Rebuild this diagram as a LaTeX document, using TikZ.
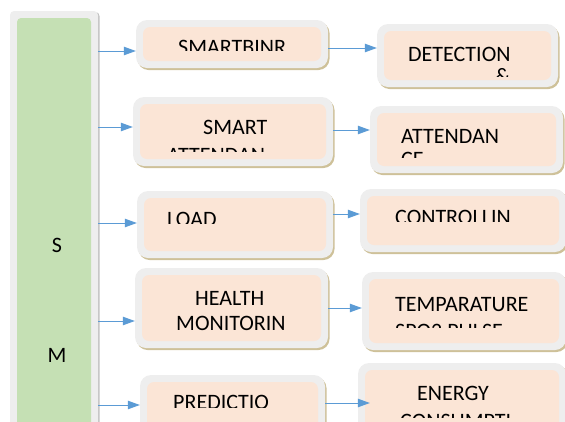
\documentclass[tikz,border=0pt]{standalone}
\usepackage{fontspec}
\setmainfont{Carlito}
\usetikzlibrary{arrows.meta,shadows}

\definecolor{peach}{HTML}{FBE5D6}
\definecolor{leaf}{HTML}{C5E0B4}
\definecolor{frame}{HTML}{EEEEEE}
\definecolor{shtan}{HTML}{C9BA8E}
\definecolor{arrblue}{HTML}{5B9BD5}

\tikzset{
	box/.style={rectangle, fill=frame, rounded corners=11pt, inner sep=0pt,
		drop shadow={shadow xshift=1.5pt, shadow yshift=-2pt, fill=shtan, opacity=.9},
		path picture={\fill[peach, rounded corners=7pt]
			([shift={(7pt,-7pt)}]path picture bounding box.north west) rectangle
			([shift={(-7pt,7pt)}]path picture bounding box.south east);}},
	barbox/.style={rectangle, fill=frame, rounded corners=4pt, inner sep=0pt,
		drop shadow={shadow xshift=1.5pt, shadow yshift=-1pt, fill=black!30, opacity=.8},
		path picture={\fill[leaf]
			([shift={(7pt,-7pt)}]path picture bounding box.north west) rectangle
			([shift={(-7pt,7pt)}]path picture bounding box.south east);}},
	txt/.style={inner sep=0pt, font=\fontsize{22}{26}\selectfont},
	arr/.style={-{Triangle[length=12pt,width=8.5pt]}, draw=arrblue, fill=arrblue, line width=.8pt}
}

% one line of text cut off below #4
\newcommand{\clippedline}[5]{%
	\begin{scope}
		\clip (0,0) rectangle (565,#4);
		\node 	(#1)	at	(#2,#3)	[txt, anchor=base west]{#5};
	\end{scope}}

\begin{document}
\begin{tikzpicture}[x=1pt,y=-1pt]

	\useasboundingbox (0,0) rectangle (565,421);
	\clip (0,0) rectangle (565,421);

	\node 	(bar)	at	(54,225.5)	[barbox, minimum width=88pt, minimum height=429pt]{};

	\node 	(a1)	at	(232,44)	[box, minimum width=192pt, minimum height=48pt]{};
	\node 	(a2)	at	(233,131.5)	[box, minimum width=200pt, minimum height=69pt]{};
	\node 	(a3)	at	(235,224.5)	[box, minimum width=196pt, minimum height=67pt]{};
	\node 	(a4)	at	(231.5,308)	[box, minimum width=193pt, minimum height=80pt]{};
	\node 	(a5)	at	(232.5,407.5)	[box, minimum width=185pt, minimum height=65pt]{};

	\node 	(b1)	at	(467.5,55.5)	[box, minimum width=181pt, minimum height=63pt]{};
	\node 	(b2)	at	(466.5,139.5)	[box, minimum width=193pt, minimum height=67pt]{};
	\node 	(b3)	at	(463,220.5)	[box, minimum width=206pt, minimum height=63pt]{};
	\node 	(b4)	at	(464,311)	[box, minimum width=204pt, minimum height=78pt]{};
	\node 	(b5)	at	(462,401.5)	[box, minimum width=208pt, minimum height=77pt]{};

	% bar letters
	\node 	(s)	at	(57,252)	[txt, anchor=base]{S};
	\node 	(m)	at	(57,362)	[txt, anchor=base]{M};

	% texts
	\clippedline{t1}{178}{54}{50}{SMARTBINR}
	\node 	(u1)	at	(408,61)	[txt, anchor=base west]{DETECTION};
	\clippedline{u1b}{495}{83}{76}{\&}

	\node 	(t2)	at	(203,134)	[txt, anchor=base west]{SMART};
	\clippedline{t2b}{167}{162.5}{151}{ATTENDAN}
	\node 	(u2)	at	(401,143)	[txt, anchor=base west]{ATTENDAN};
	\clippedline{u2b}{401}{166}{157}{CE}

	\clippedline{t3}{167}{226}{223}{LOAD}
	\clippedline{u3}{395}{224}{221}{CONTROLLIN}

	\node 	(t4)	at	(195,305)	[txt, anchor=base west]{HEALTH};
	\node 	(t4b)	at	(176,330)	[txt, anchor=base west]{MONITORIN};
	\node 	(u4)	at	(395,311)	[txt, anchor=base west]{TEMPARATURE};
	\clippedline{u4b}{395}{338}{327}{SPO2 PULSE}

	\clippedline{t5}{173}{409}{407}{PREDICTIO}
	\node 	(u5)	at	(417,400)	[txt, anchor=base west]{ENERGY};
	\clippedline{u5b}{400}{428}{417}{CONSUMPTI}

	% arrows
	\draw[arr]	(bar.east |- 0,51)	--	(a1.west |- 0,51);
	\draw[arr]	(bar.east |- 0,127)	--	(a2.west |- 0,127);
	\draw[arr]	(bar.east |- 0,223)	--	(a3.west |- 0,223);
	\draw[arr]	(bar.east |- 0,321)	--	(a4.west |- 0,321);
	\draw[arr]	(bar.east |- 0,405)	--	(a5.west |- 0,405);

	\draw[arr]	(a1.east |- 0,48)	--	(b1.west |- 0,48);
	\draw[arr]	(a2.east |- 0,130)	--	(b2.west |- 0,130);
	\draw[arr]	(a3.east |- 0,214)	--	(b3.west |- 0,214);
	\draw[arr]	(a4.east |- 0,308)	--	(b4.west |- 0,308);
	\draw[arr]	(a5.east |- 0,403)	--	([xshift=12pt]b5.west |- 0,403);

\end{tikzpicture}
\end{document}
